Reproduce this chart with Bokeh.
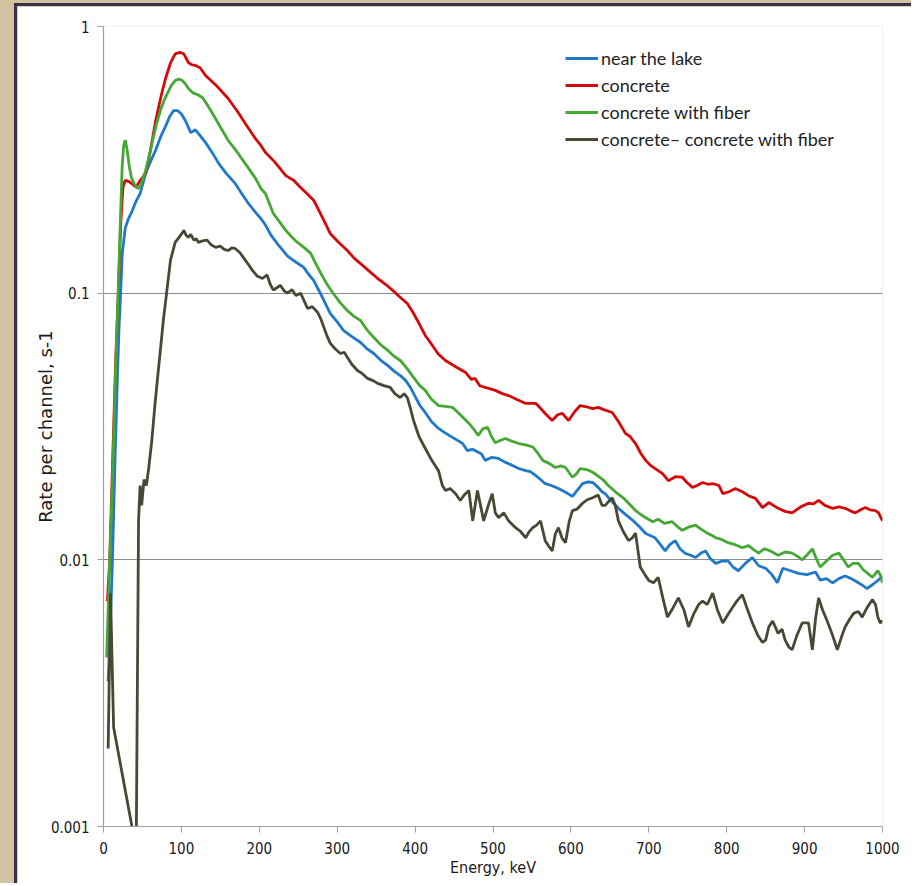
from bokeh.plotting import figure
from bokeh.models import Range1d, FixedTicker, CustomJSTickFormatter
from bokeh.layouts import column
from bokeh.embed import file_html
from bokeh.resources import INLINE

# ---------------- data ----------------
x_ticks = [0, 100, 200, 300, 400, 500, 600, 700, 800, 900, 1000]
y_ticks = [0.001, 0.01, 0.1, 1]

series_names = ["near the lake", "concrete", "concrete with fiber", "concrete\u2013 concrete with fiber"]

lake_e = [6, 9, 11.5, 15, 18, 20, 22, 24, 28, 32, 37, 42, 47, 54, 60, 67, 74, 80, 85, 90, 95, 100, 105, 112, 118, 124,
          131, 140, 148, 158, 169, 178, 186, 197, 202, 208, 215, 223, 230, 236, 245, 257, 263, 270, 276, 281, 286, 291,
          300, 308, 318, 330, 338, 347, 356, 365, 373, 381, 388, 394, 400, 406, 413, 421, 430, 438, 448, 455, 461, 467,
          474, 481, 485, 490, 498, 507, 516, 525, 533, 542, 548, 555, 561, 567, 575, 584, 592, 602, 608, 615, 622, 628,
          635, 640, 644, 652, 661, 670, 679, 688, 696, 708, 715, 721, 727, 734, 740, 747, 754, 760, 767, 773, 779, 786,
          794, 802, 808, 815, 824, 833, 841, 850, 858, 865, 872, 882, 892, 903, 914, 920, 928, 936, 944, 952, 960, 969,
          975, 980, 988, 997, 1000]
lake_r = [0.0035, 0.006, 0.010, 0.025, 0.05, 0.075, 0.10, 0.14, 0.176, 0.19, 0.204, 0.222, 0.236, 0.281, 0.31, 0.344,
          0.39, 0.425, 0.46, 0.484, 0.484, 0.47, 0.444, 0.40, 0.41, 0.39, 0.367, 0.335, 0.306, 0.28, 0.258, 0.235, 0.217,
          0.198, 0.1905, 0.180, 0.165, 0.1535, 0.145, 0.138, 0.132, 0.125, 0.118, 0.1115, 0.103, 0.0964, 0.090, 0.084,
          0.078, 0.0725, 0.069, 0.0653, 0.062, 0.0594, 0.056, 0.0535, 0.051, 0.0491, 0.047, 0.0443, 0.041, 0.038, 0.0357,
          0.033, 0.0311, 0.030, 0.0288, 0.028, 0.0273, 0.0257, 0.026, 0.0253, 0.025, 0.0236, 0.0242, 0.024, 0.0232,
          0.0226, 0.022, 0.0216, 0.0214, 0.0207, 0.020, 0.0193, 0.0190, 0.0185, 0.018, 0.0173, 0.0182, 0.0193, 0.0196,
          0.0195, 0.0187, 0.018, 0.0177, 0.0166, 0.0156, 0.0148, 0.0141, 0.0133, 0.01255, 0.0121, 0.0114, 0.0108,
          0.0114, 0.0118, 0.011, 0.01056, 0.0104, 0.0102, 0.0106, 0.0108, 0.0101, 0.0097, 0.0099, 0.0099, 0.0094,
          0.0091, 0.0097, 0.0102, 0.0095, 0.0093, 0.0088, 0.0082, 0.0093, 0.0091, 0.0089, 0.0088, 0.0090, 0.0084,
          0.0085, 0.0082, 0.0085, 0.0087, 0.0085, 0.0082, 0.0080, 0.0078, 0.0081, 0.0085, 0.0087]

concrete_e = [5, 8, 12, 16, 19, 22, 25, 28, 33, 38, 42, 46, 54, 60, 67, 74, 80, 86, 92, 98, 103, 109, 113, 118, 124,
              131, 145, 160, 172, 182, 195, 202, 208, 220, 234, 244, 253, 262, 270, 280, 291, 302, 313, 322, 330, 341,
              352, 362, 372, 380, 390, 397, 403, 413, 420, 430, 439, 452, 465, 472, 477, 483, 490, 503, 512, 520, 530,
              542, 555, 561, 567, 576, 583, 589, 597, 605, 612, 620, 628, 635, 643, 653, 661, 670, 676, 683, 690, 696,
              703, 712, 718, 725, 734, 743, 749, 756, 762, 769, 776, 782, 790, 795, 803, 811, 820, 828, 837, 846, 854,
              866, 875, 884, 895, 905, 911, 918, 926, 936, 944, 952, 960, 965, 972, 978, 984, 991, 995, 1000]
concrete_r = [0.0070, 0.0100, 0.025, 0.060, 0.10, 0.18, 0.25, 0.265, 0.262, 0.255, 0.250, 0.262, 0.281, 0.34, 0.444,
              0.55, 0.644, 0.73, 0.79, 0.80, 0.79, 0.733, 0.72, 0.714, 0.70, 0.655, 0.60, 0.537, 0.48, 0.433, 0.38,
              0.358, 0.337, 0.31, 0.276, 0.265, 0.249, 0.235, 0.2226, 0.195, 0.1675, 0.155, 0.1445, 0.135, 0.129, 0.121,
              0.1135, 0.108, 0.102, 0.097, 0.0915, 0.085, 0.079, 0.0694, 0.065, 0.059, 0.0559, 0.053, 0.0504, 0.0475,
              0.0479, 0.045, 0.0443, 0.0432, 0.042, 0.0413, 0.040, 0.0386, 0.0386, 0.037, 0.0354, 0.0333, 0.035, 0.0354,
              0.0333, 0.036, 0.0379, 0.0375, 0.0369, 0.0373, 0.0365, 0.0357, 0.033, 0.0298, 0.029, 0.0273, 0.025,
              0.0236, 0.0225, 0.0216, 0.021, 0.0198, 0.0205, 0.0204, 0.0195, 0.0187, 0.019, 0.0195, 0.0192, 0.0193,
              0.019, 0.0177, 0.018, 0.0185, 0.018, 0.0174, 0.017, 0.0157, 0.0164, 0.0156, 0.0152, 0.0150, 0.0158,
              0.0163, 0.0162, 0.0167, 0.016, 0.0156, 0.0158, 0.0156, 0.0152, 0.0150, 0.0154, 0.0157, 0.0154, 0.0153,
              0.0150, 0.0140]

fiber_e = [4, 8, 12, 15, 18, 20, 22, 24, 26, 28, 30, 33, 36, 40, 44, 47, 50, 54, 58, 63, 68, 73, 78, 82, 87, 92, 97,
           101, 105, 109, 113, 116, 121, 127, 133, 140, 150, 160, 171, 182, 195, 202, 208, 218, 226, 234, 242, 249, 258,
           266, 272, 279, 287, 295, 304, 313, 321, 330, 338, 347, 356, 365, 373, 381, 390, 398, 406, 413, 421, 430, 439,
           448, 458, 469, 475, 481, 487, 493, 498, 503, 509, 516, 525, 533, 542, 551, 558, 564, 572, 580, 587, 593, 602,
           607, 612, 620, 628, 635, 641, 648, 657, 666, 675, 683, 694, 705, 712, 720, 730, 737, 743, 752, 760, 766, 773,
           780, 786, 794, 802, 811, 820, 828, 835, 841, 848, 856, 866, 875, 884, 891, 897, 904, 910, 915, 920, 928, 936,
           944, 950, 956, 962, 969, 975, 981, 987, 994, 997, 1000]
fiber_r = [0.0043, 0.010, 0.022, 0.045, 0.085, 0.13, 0.2, 0.30, 0.36, 0.375, 0.35, 0.30, 0.27, 0.255, 0.247, 0.25,
           0.265, 0.288, 0.32, 0.374, 0.43, 0.484, 0.53, 0.561, 0.60, 0.627, 0.635, 0.627, 0.61, 0.585, 0.57, 0.561,
           0.555, 0.542, 0.51, 0.472, 0.42, 0.374, 0.34, 0.306, 0.27, 0.247, 0.236, 0.199, 0.185, 0.172, 0.162, 0.155,
           0.148, 0.141, 0.13, 0.1186, 0.108, 0.0997, 0.092, 0.0861, 0.082, 0.079, 0.073, 0.0682, 0.064, 0.061, 0.058,
           0.0559, 0.052, 0.0483, 0.045, 0.0432, 0.040, 0.0379, 0.0376, 0.0373, 0.035, 0.0325, 0.031, 0.0293, 0.031,
           0.0314, 0.029, 0.0275, 0.028, 0.0285, 0.0278, 0.0273, 0.027, 0.0265, 0.025, 0.0236, 0.023, 0.0222, 0.0225,
           0.0222, 0.0204, 0.021, 0.0220, 0.0218, 0.0213, 0.0206, 0.020, 0.019, 0.018, 0.0172, 0.0162, 0.0153, 0.0145,
           0.0139, 0.0142, 0.0137, 0.0139, 0.0133, 0.0129, 0.0133, 0.0135, 0.0131, 0.0127, 0.0124, 0.0121, 0.0119,
           0.0116, 0.0114, 0.0111, 0.0113, 0.0109, 0.0106, 0.0110, 0.0108, 0.0104, 0.0107, 0.0106, 0.0103, 0.0100,
           0.0105, 0.0110, 0.0101, 0.0094, 0.0099, 0.0104, 0.0106, 0.0100, 0.0094, 0.0097, 0.0097, 0.0092, 0.0089,
           0.0086, 0.0091, 0.0088, 0.0082]

diff_e = [6, 9, 13, 42, 45, 47, 49, 52, 55, 58, 62, 66, 70, 73, 77, 81, 86, 92, 97, 101, 103, 106, 109, 112, 116, 119,
          122, 127, 133, 138, 144, 150, 155, 160, 165, 169, 175, 182, 187, 191, 197, 204, 210, 214, 218, 223, 227, 232,
          236, 242, 247, 253, 258, 262, 268, 275, 279, 283, 287, 291, 297, 304, 309, 313, 319, 326, 332, 339, 346, 352,
          360, 368, 374, 381, 386, 390, 394, 398, 405, 413, 420, 430, 435, 439, 445, 452, 458, 463, 469, 474, 480, 484,
          488, 494, 499, 503, 507, 514, 520, 529, 535, 542, 546, 551, 556, 561, 567, 572, 576, 580, 584, 589, 593, 598,
          602, 608, 615, 621, 628, 635, 640, 644, 648, 653, 657, 661, 667, 674, 679, 683, 689, 695, 700, 706, 712, 718,
          724, 731, 738, 745, 751, 758, 764, 769, 775, 782, 788, 795, 801, 807, 813, 820, 826, 833, 840, 846, 850, 854,
          859, 866, 871, 875, 880, 884, 890, 897, 905, 910, 914, 918, 923, 929, 936, 942, 947, 952, 958, 963, 969, 974,
          980, 987, 991, 994, 997, 1000]
diff_r = [0.00196, 0.0075, 0.00235, 0.00082, 0.014, 0.019, 0.016, 0.020, 0.019, 0.022, 0.028, 0.038, 0.050, 0.061,
          0.08, 0.10, 0.133, 0.155, 0.162, 0.168, 0.172, 0.165, 0.162, 0.166, 0.158, 0.16, 0.155, 0.157, 0.158, 0.152,
          0.1485, 0.15, 0.146, 0.1445, 0.148, 0.147, 0.142, 0.133, 0.127, 0.122, 0.116, 0.1135, 0.117, 0.108, 0.1026,
          0.105, 0.107, 0.102, 0.100, 0.103, 0.098, 0.100, 0.093, 0.0876, 0.089, 0.0846, 0.080, 0.0743, 0.069, 0.065,
          0.062, 0.0594, 0.060, 0.0575, 0.054, 0.0513, 0.050, 0.0479, 0.047, 0.0459, 0.045, 0.0443, 0.042, 0.0406,
          0.042, 0.0406, 0.037, 0.0333, 0.029, 0.0262, 0.024, 0.0216, 0.019, 0.0182, 0.0185, 0.0177, 0.0167, 0.0175,
          0.0182, 0.0140, 0.0182, 0.016, 0.0140, 0.016, 0.0177, 0.015, 0.0144, 0.015, 0.0140, 0.0132, 0.0128, 0.0121,
          0.0127, 0.0132, 0.0135, 0.0140, 0.0118, 0.0112, 0.0108, 0.0125, 0.0132, 0.012, 0.0116, 0.0140, 0.0153,
          0.0155, 0.0163, 0.0168, 0.0171, 0.0175, 0.016, 0.016, 0.0165, 0.0171, 0.016, 0.014, 0.0128, 0.0118, 0.0121,
          0.0126, 0.0094, 0.0088, 0.00837, 0.0082, 0.0086, 0.0072, 0.0061, 0.0066, 0.0072, 0.0065, 0.0056, 0.0063,
          0.0068, 0.0070, 0.0068, 0.0075, 0.0065, 0.0058, 0.0062, 0.0066, 0.0070, 0.0074, 0.0066, 0.0058, 0.0052,
          0.0049, 0.0050, 0.0056, 0.0059, 0.0053, 0.0055, 0.0050, 0.0047, 0.0046, 0.0052, 0.0058, 0.0058, 0.0046,
          0.0060, 0.0072, 0.0065, 0.0059, 0.0052, 0.0046, 0.0051, 0.0056, 0.0060, 0.0063, 0.0064, 0.0061, 0.0066,
          0.0071, 0.0068, 0.0061, 0.0058, 0.0059]

colors = ["#1f78c8", "#d40a0a", "#45a834", "#4a4734"]

# ---------------- figure ----------------
TICK_FONT = "Liberation Sans Narrow, DejaVu Sans Condensed, sans-serif"

p = figure(width=897, height=880, y_axis_type="log",
           x_range=Range1d(0, 1000), y_range=Range1d(0.001, 1),
           output_backend="svg", toolbar_location=None,
           min_border_left=86, min_border_right=32, min_border_top=20, min_border_bottom=60)
p.outline_line_color = None
p.background_fill_color = "white"
p.border_fill_color = "white"

data = [(lake_e, lake_r), (concrete_e, concrete_r), (fiber_e, fiber_r), (diff_e, diff_r)]
for (e, r), c, name in zip(data, colors, series_names):
    p.line(e, r, line_color=c, line_width=2.8, legend_label=name)

# axes
p.xaxis.ticker = FixedTicker(ticks=x_ticks)
yt = FixedTicker(ticks=y_ticks)
p.yaxis.ticker = yt
p.ygrid.ticker = yt
p.yaxis.formatter = CustomJSTickFormatter(code="return tick.toString();")
p.xgrid.visible = False
p.ygrid.grid_line_color = "#8c8c8c"
p.ygrid.grid_line_width = 1

for ax in (p.xaxis[0], p.yaxis[0]):
    ax.axis_line_color = "#a0a0a0"
    ax.axis_line_width = 1.2
    ax.major_tick_line_color = "#a0a0a0"
    ax.major_tick_in = 0
    ax.major_tick_out = 6
    ax.minor_tick_line_color = None
    ax.major_label_text_font = TICK_FONT
    ax.major_label_text_font_size = "15px"
    ax.major_label_text_color = "#1a1a1a"
    ax.axis_label_text_font_style = "normal"
    ax.axis_label_text_color = "#1a1a1a"

p.xaxis.axis_label = "Energy, keV"
p.xaxis.axis_label_text_font = TICK_FONT
p.xaxis.axis_label_text_font_size = "16px"
p.xaxis.major_label_standoff = 9
p.xaxis.axis_label_standoff = 1

p.yaxis.axis_label = "Rate per channel, s-1"
p.yaxis.axis_label_text_font = "DejaVu Sans"
p.yaxis.axis_label_text_font_size = "18px"
p.yaxis.major_label_standoff = 8
p.yaxis.axis_label_standoff = -8

# legend
lg = p.legend[0]
lg.location = (462, 675)
lg.border_line_color = None
lg.background_fill_alpha = 0
lg.padding = 0
lg.margin = 0
lg.spacing = 3
lg.glyph_width = 33
lg.glyph_height = 24
lg.label_height = 24
lg.label_standoff = 3
lg.label_text_font = "Lato"
lg.label_text_font_size = "18px"
lg.label_text_color = "#222222"

layout = column(p, styles={"background-color": "#d2c4a2", "padding-left": "14px", "padding-top": "3px"})
p.styles = {"border-left": "3px solid #3b2f4a", "border-top": "3px solid #3b2f4a"}

open("out.html", "w").write(file_html(layout, INLINE))
